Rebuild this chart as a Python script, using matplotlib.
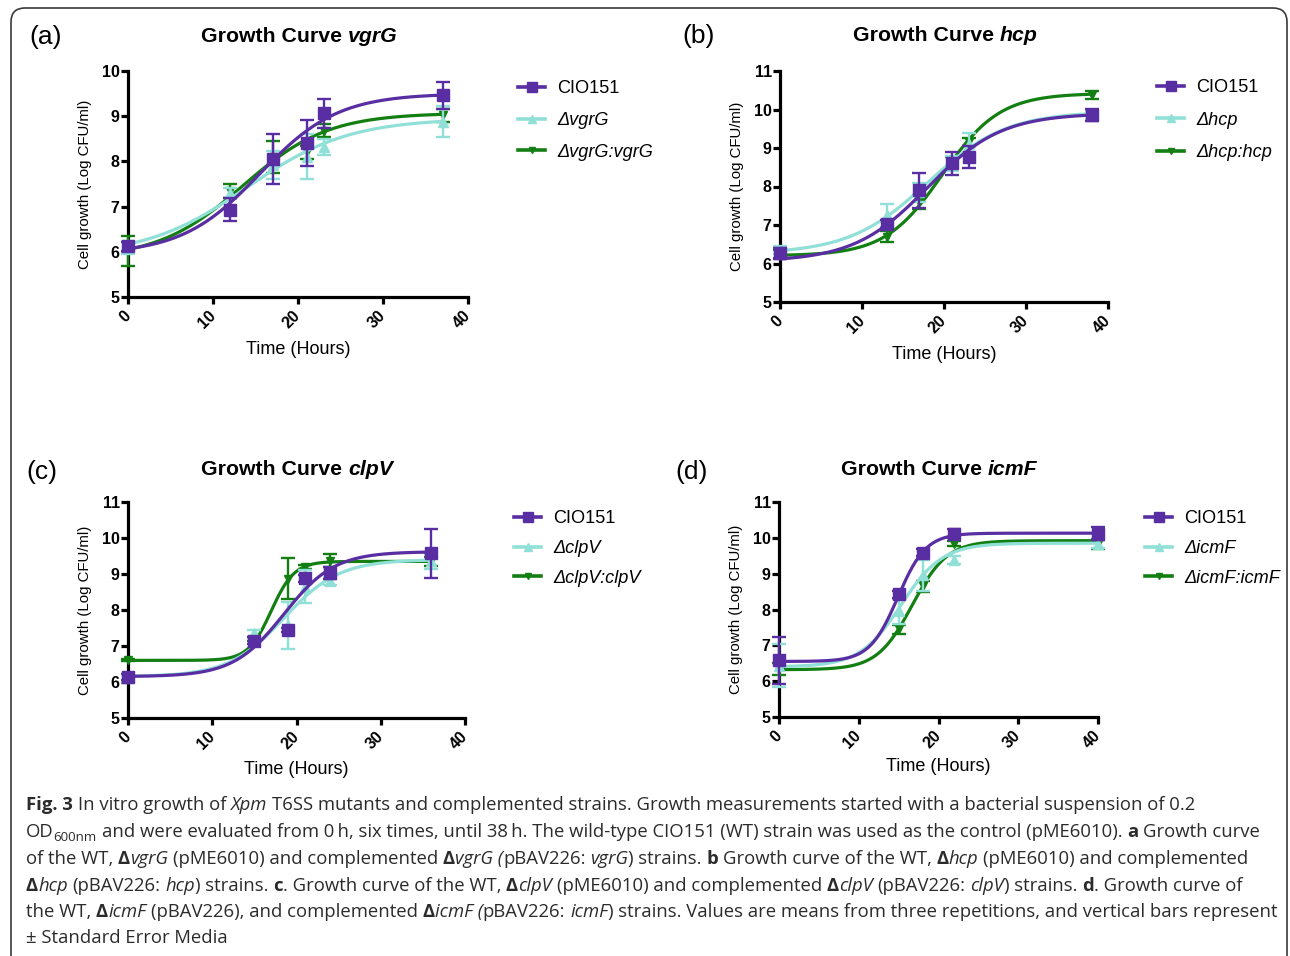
import numpy as np
import matplotlib
matplotlib.use('Agg')
import matplotlib.pyplot as plt
from matplotlib.lines import Line2D
from matplotlib.patches import FancyBboxPatch
from matplotlib.transforms import IdentityTransform

plt.rcParams['font.family'] = ['Liberation Sans', 'DejaVu Sans']

W, H = 1290, 956
C_WT = '#5a2ea3'
C_MUT = '#90e0d8'
C_COMP = '#137f13'

# ---------------- data ----------------
series_labels_a = ['CIO151', '\u0394vgrG', '\u0394vgrG:vgrG']
a_time = [0, 12, 17, 21, 23, 37]
a_wt = [6.12, 6.93, 8.05, 8.41, 9.07, 9.46]
a_wt_err = [0.10, 0.25, 0.56, 0.51, 0.32, 0.29]
a_mut = [6.10, 7.30, 7.92, 8.10, 8.32, 8.88]
a_mut_err = [0.15, 0.12, 0.32, 0.50, 0.18, 0.35]
a_comp = [6.02, 7.35, 8.10, 8.20, 8.68, 9.02]
a_comp_err = [0.33, 0.15, 0.35, 0.15, 0.15, 0.15]
# fitted sigmoid parameters [bottom, top, V50, slope]
a_wt_fit = [5.95, 9.50, 15.5, 4.6]
a_mut_fit = [5.90, 8.95, 14.0, 6.0]
a_comp_fit = [5.85, 9.07, 13.5, 5.0]

series_labels_b = ['CIO151', '\u0394hcp', '\u0394hcp:hcp']
b_time = [0, 13, 17, 21, 23, 38]
b_wt = [6.26, 7.02, 7.90, 8.60, 8.77, 9.85]
b_wt_err = [0.15, 0.10, 0.46, 0.30, 0.29, 0.16]
b_mut = [6.35, 7.25, 7.85, 8.60, 9.10, 9.85]
b_mut_err = [0.10, 0.30, 0.25, 0.20, 0.30, 0.10]
b_comp = [6.25, 6.70, 7.60, 8.65, 9.15, 10.38]
b_comp_err = [0.10, 0.15, 0.18, 0.12, 0.10, 0.10]
b_wt_fit = [6.05, 9.90, 18.0, 4.5]
b_mut_fit = [6.25, 9.95, 18.0, 4.8]
b_comp_fit = [6.20, 10.42, 19.8, 3.5]

series_labels_c = ['CIO151', '\u0394clpV', '\u0394clpV:clpV']
c_time = [0, 15, 19, 21, 24, 36]
c_wt = [6.13, 7.15, 7.45, 8.88, 9.03, 9.57]
c_wt_err = [0.08, 0.10, 0.05, 0.10, 0.17, 0.67]
c_mut = [6.12, 7.35, 7.58, 8.65, 8.80, 9.35]
c_mut_err = [0.10, 0.10, 0.65, 0.45, 0.10, 0.20]
c_comp = [6.60, 7.20, 8.87, 9.20, 9.37, 9.35]
c_comp_err = [0.03, 0.05, 0.57, 0.05, 0.18, 0.12]
c_wt_fit = [6.15, 9.62, 18.5, 3.0]
c_mut_fit = [6.15, 9.40, 18.5, 3.3]
c_comp_fit = [6.60, 9.35, 17.0, 1.37]

series_labels_d = ['CIO151', '\u0394icmF', '\u0394icmF:icmF']
d_time = [0, 15, 18, 22, 40]
d_wt = [6.58, 8.42, 9.59, 10.12, 10.12]
d_wt_err = [0.65, 0.10, 0.10, 0.12, 0.17]
d_mut = [6.43, 7.95, 8.95, 9.38, 9.83]
d_mut_err = [0.60, 0.35, 0.42, 0.10, 0.10]
d_comp = [6.35, 7.45, 8.65, 9.84, 9.83]
d_comp_err = [0.17, 0.12, 0.15, 0.07, 0.15]
d_wt_fit = [6.55, 10.13, 14.9, 1.77]
d_mut_fit = [6.40, 9.85, 15.3, 2.6]
d_comp_fit = [6.32, 9.92, 16.7, 2.2]

x_ticks = [0, 10, 20, 30, 40]


def sigmoid(x, p):
    b, t, v, s = p
    return b + (t - b) / (1 + np.exp((v - x) / s))


fig = plt.figure(figsize=(W / 100, H / 100), dpi=100)
renderer = fig.canvas.get_renderer()


def space_w(props):
    t1 = fig.text(0, 0, 'a a', **props)
    t2 = fig.text(0, 0, 'aa', **props)
    w = t1.get_window_extent(renderer).width - t2.get_window_extent(renderer).width
    t1.remove(); t2.remove()
    return w


def draw_runs(x, y, runs, ha='left', **common):
    items = []
    cur = 0.0
    for txt, props in runs:
        p = dict(common)
        p.update(props)
        dy = p.pop('dy', 0)
        lead = len(txt) - len(txt.lstrip(' '))
        trail = len(txt) - len(txt.rstrip(' '))
        core = txt.strip(' ')
        sp = space_w(p) if (lead or trail) else 0
        cur += lead * sp
        if core:
            t = fig.text(0, 0, core, transform=IdentityTransform(),
                         ha='left', va='baseline', **p)
            w = t.get_window_extent(renderer).width
            items.append((t, cur, dy))
            cur += w
        cur += trail * sp
    x0 = x - cur / 2 if ha == 'center' else x
    for t, off, dy in items:
        t.set_position((x0 + off, H - (y + dy)))


def panel(rect, time, series, errs, fits, labels, ylim, yticks, leg_xy,
          letter, letter_xy, gene, title_xy, ylab_x, xlab_y):
    l, t, r, b = rect
    ax = fig.add_axes([l / W, 1 - b / H, (r - l) / W, (b - t) / H])
    xs_all = np.linspace(0, time[-1], 300)
    for k in [2, 1, 0]:
        col = [C_WT, C_MUT, C_COMP][k]
        mk = ['s', '^', 'v'][k]
        ms = [8.5, 7.5, 6][k]
        z = 3 + (2 - k) * 2
        ax.plot(xs_all, sigmoid(xs_all, fits[k]), color=col, lw=2.3,
                zorder=z, clip_on=False, solid_capstyle='round')
        ax.errorbar(time, series[k], yerr=errs[k], fmt=mk, ms=ms, color=col,
                    ecolor=col, elinewidth=1.7, capsize=5, capthick=1.7,
                    zorder=z + 1, clip_on=False)
    ax.set_xlim(0, 40)
    ax.set_ylim(*ylim)
    for s in ['top', 'right']:
        ax.spines[s].set_visible(False)
    for s in ['left', 'bottom']:
        ax.spines[s].set_linewidth(2.3)
    ax.tick_params(axis='both', direction='out', length=5, width=2.3, pad=1,
                   labelsize=11.5)
    ax.set_yticks(yticks)
    ax.set_yticklabels([str(v) for v in yticks], fontweight='bold')
    ax.set_xticks(x_ticks)
    ax.set_xticklabels([str(v) for v in x_ticks], fontweight='bold',
                       rotation=45, ha='right', va='center',
                       rotation_mode='anchor')
    ax.tick_params(axis='x', pad=7)
    ax.set_ylabel('Cell growth (Log CFU/ml)', fontsize=10.8)
    ax.yaxis.set_label_coords((ylab_x - l) / (r - l), 0.5)
    ax.set_xlabel('Time (Hours)', fontsize=13)
    ax.xaxis.set_label_coords(0.5, -(xlab_y - b) / (b - t))
    ax.xaxis.label.set_va('top')
    handles = [Line2D([], [], color=[C_WT, C_MUT, C_COMP][k],
                      marker=['s', '^', 'v'][k], ms=[7, 6, 5][k], lw=2.6)
               for k in range(3)]
    leg = ax.legend(handles, labels, loc='upper left',
                    bbox_to_anchor=(leg_xy[0] / W, 1 - leg_xy[1] / H),
                    bbox_transform=fig.transFigure, frameon=False,
                    fontsize=13.1, handlelength=1.5, handletextpad=0.65,
                    labelspacing=leg_xy[2], borderpad=0, borderaxespad=0)
    for tx in leg.get_texts()[1:]:
        tx.set_fontstyle('italic')
    fig.text(letter_xy[0] / W, 1 - letter_xy[1] / H, letter, fontsize=19,
             ha='left', va='baseline')
    draw_runs(title_xy[0], title_xy[1],
              [('Growth Curve ', {'fontweight': 'bold'}),
               (gene, {'fontweight': 'bold', 'fontstyle': 'italic'})],
              ha='center', fontsize=15.3)
    return ax


panel((128, 71, 468, 297), a_time, [a_wt, a_mut, a_comp],
      [a_wt_err, a_mut_err, a_comp_err], [a_wt_fit, a_mut_fit, a_comp_fit],
      series_labels_a, (5, 10), [5, 6, 7, 8, 9, 10], (518, 80, 0.82),
      '(a)', (29, 44), 'vgrG', (299, 42.5), 92, 341)
panel((780, 71, 1108, 302), b_time, [b_wt, b_mut, b_comp],
      [b_wt_err, b_mut_err, b_comp_err], [b_wt_fit, b_mut_fit, b_comp_fit],
      series_labels_b, (5, 11), [5, 6, 7, 8, 9, 10, 11], (1157, 79, 0.86),
      '(b)', (682, 43), 'hcp', (945, 41), 744, 346)
panel((128, 502, 465, 718), c_time, [c_wt, c_mut, c_comp],
      [c_wt_err, c_mut_err, c_comp_err], [c_wt_fit, c_mut_fit, c_comp_fit],
      series_labels_c, (5, 11), [5, 6, 7, 8, 9, 10, 11], (514, 510, 0.71),
      '(c)', (26, 479), 'clpV', (297, 475), 92, 761)
panel((779, 502, 1098, 717), d_time, [d_wt, d_mut, d_comp],
      [d_wt_err, d_mut_err, d_comp_err], [d_wt_fit, d_mut_fit, d_comp_fit],
      series_labels_d, (5, 11), [5, 6, 7, 8, 9, 10, 11], (1145, 510, 0.71),
      '(d)', (675, 479), 'icmF', (939, 475), 743, 758)

# ---------------- caption ----------------
CAP = dict(fontsize=13.3, color='#2b2b2b', family=['Open Sans', 'DejaVu Sans'])
B = {'fontweight': 'bold'}
I = {'fontstyle': 'italic'}
R = {}
D = '\u0394'
caption_lines = [
    [('Fig. 3', B), (' In vitro growth of ', R), ('Xpm', I),
     (' T6SS mutants and complemented strains. Growth measurements started with a bacterial suspension of 0.2', R)],
    [('OD', R), ('600nm', {'fontsize': 9.5, 'dy': 4}),
     (' and were evaluated from 0\u2009h, six times, until 38\u2009h. The wild-type CIO151 (WT) strain was used as the control (pME6010). ', R),
     ('a', B), (' Growth curve', R)],
    [('of the WT, ', R), (D, B), ('vgrG', I), (' (pME6010) and complemented ', R),
     (D, B), ('vgrG (', I), ('pBAV226: ', R), ('vgrG', I), (') strains. ', R), ('b', B),
     (' Growth curve of the WT, ', R), (D, B), ('hcp', I),
     (' (pME6010) and complemented', R)],
    [(D, B), ('hcp', I), (' (pBAV226: ', R), ('hcp', I), (') strains. ', R), ('c', B),
     ('. Growth curve of the WT, ', R), (D, B), ('clpV', I),
     (' (pME6010) and complemented ', R), (D, B), ('clpV', I), (' (pBAV226: ', R),
     ('clpV', I), (') strains. ', R), ('d', B), ('. Growth curve of', R)],
    [('the WT, ', R), (D, B), ('icmF', I), (' (pBAV226), and complemented ', R),
     (D, B), ('icmF (', I), ('pBAV226: ', R), ('icmF', I),
     (') strains. Values are means from three repetitions, and vertical bars represent', R)],
    [('\u00b1 Standard Error Media', R)],
]
caption_baselines = [810, 837, 864, 891, 917, 943]
for runs, yb in zip(caption_lines, caption_baselines):
    draw_runs(26, yb, runs, **CAP)

# ---------------- frame ----------------
frame = FancyBboxPatch((11, -40), 1276, 988, boxstyle='round,pad=0,rounding_size=14',
                       transform=IdentityTransform(), fill=False,
                       edgecolor='#3a3a3a', linewidth=1.2)
fig.patches.append(frame)

fig.savefig('out.png', dpi=100)
